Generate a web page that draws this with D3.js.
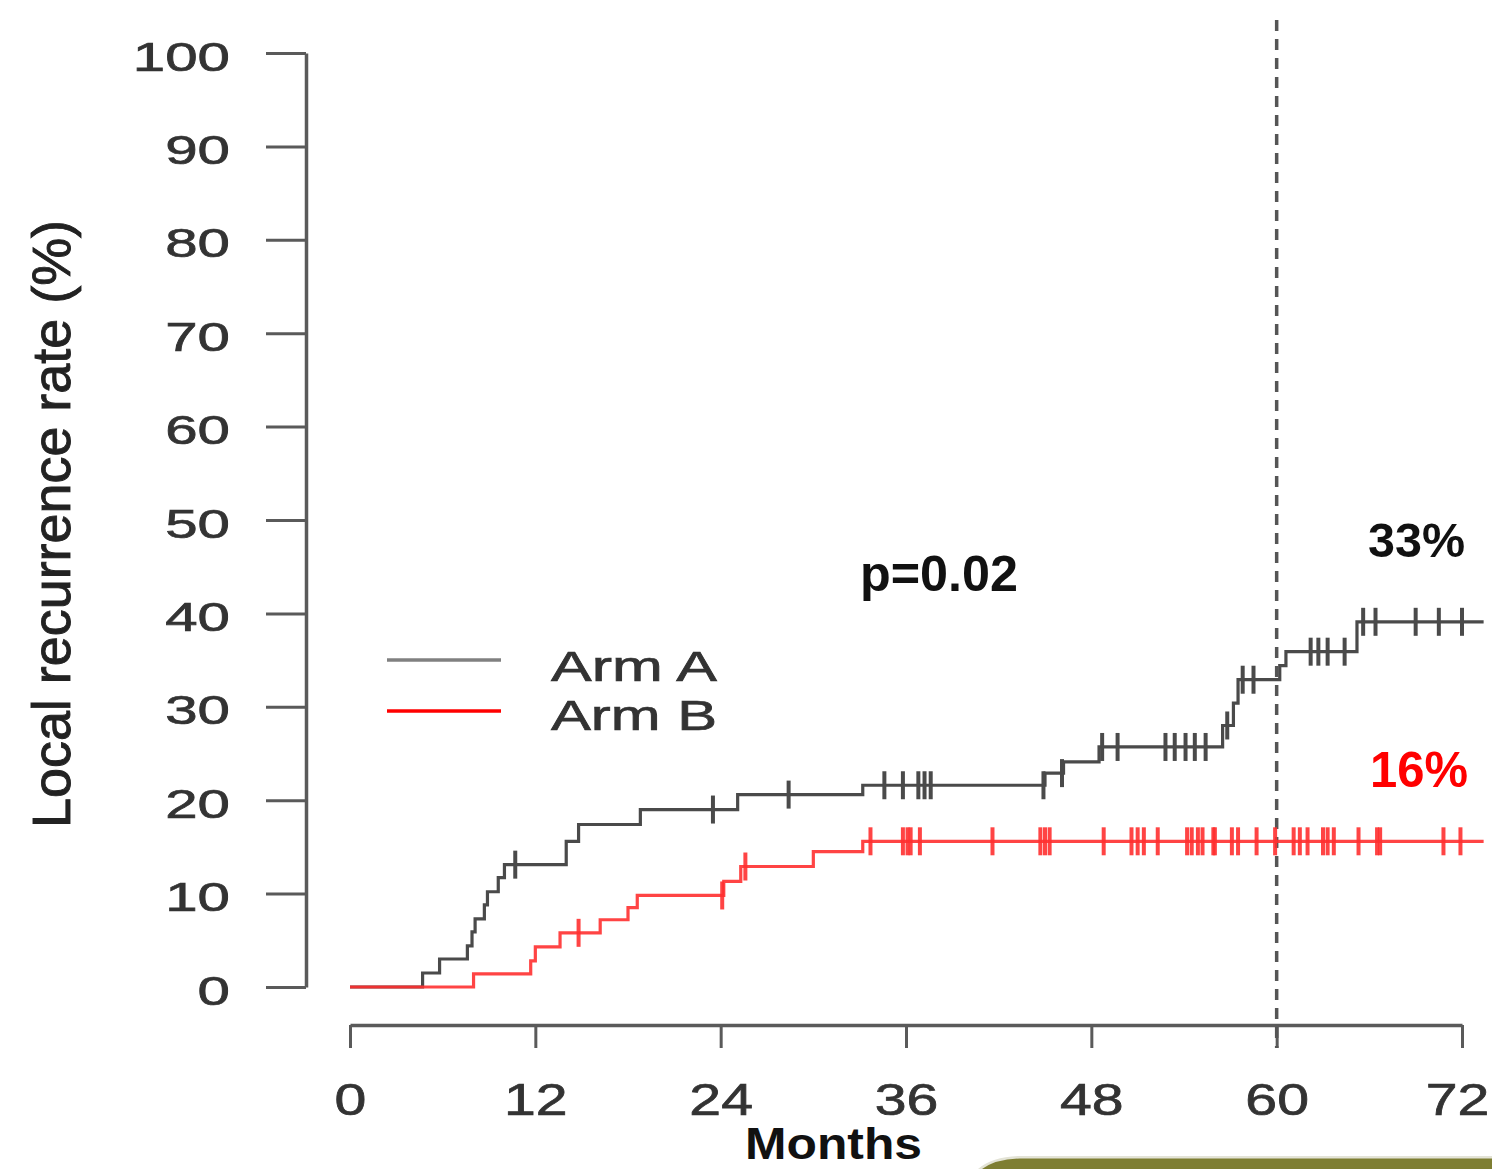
<!DOCTYPE html>
<html>
<head>
<meta charset="utf-8">
<script src="https://cdn.jsdelivr.net/npm/d3@7"></script>
<style>
  html, body { margin: 0; padding: 0; background: #fff; }
  svg { display: block; }
  text { font-family: "Liberation Sans", Arial, sans-serif; }
</style>
</head>
<body>
<svg id="chart" width="1492" height="1169"></svg>
<script>
// ---- data ----
const monthTicks = [0, 12, 24, 36, 48, 60, 72];
const rateTicks = [0, 10, 20, 30, 40, 50, 60, 70, 80, 90, 100];
const followUpEnd = 73.4;

// Arm A: event times (months) and cumulative local recurrence (%) after each event
const armATimes  = [4.7, 5.8, 7.6, 7.9, 8.1, 8.7, 8.9, 9.6, 10.0, 14.0, 14.8, 18.8, 25.1, 33.2, 45.0, 46.2, 48.5, 56.5, 57.2, 57.5, 60.2, 60.6, 65.2];
const armAValues = [1.5, 3.0, 4.4, 5.9, 7.3, 8.8, 10.2, 11.7, 13.1, 15.6, 17.4, 19.0, 20.6, 21.6, 22.9, 24.1, 25.7, 28.0, 30.4, 32.9, 34.4, 35.9, 39.1];
const armACensored = [10.7, 23.5, 28.4, 34.6, 35.8, 36.8, 37.2, 37.6, 44.9, 46.1, 48.7, 49.7, 52.8, 53.4, 54.1, 54.7, 55.4, 56.8, 57.8, 58.5, 62.2, 62.7, 63.3, 64.4, 65.6, 66.4, 69.0, 70.5, 72.0];

// Arm B
const armBTimes  = [8.0, 11.7, 12.0, 13.6, 16.2, 18.0, 18.6, 24.2, 25.3, 30.0, 33.2];
const armBValues = [1.4, 2.8, 4.3, 5.8, 7.2, 8.5, 9.8, 11.3, 12.9, 14.5, 15.6];
const armBCensored = [14.8, 24.1, 25.6, 33.7, 35.8, 36.1, 36.3, 36.9, 41.6, 44.7, 45.0, 45.3, 48.8, 50.6, 51.0, 51.4, 52.3, 54.2, 54.5, 54.9, 55.2, 55.9, 56.0, 57.1, 57.5, 58.7, 59.9, 61.1, 61.5, 62.0, 63.0, 63.3, 63.7, 65.3, 66.5, 66.7, 70.8, 71.9];

const armLabels = ["Arm A", "Arm B"];
const pValueLabel = "p=0.02";
const armAAt60 = "33%";
const armBAt60 = "16%";
const landmarkMonth = 60;
const xTitle = "Months";
const yTitle = "Local recurrence rate (%)";

// ---- drawing ----
const svg = d3.select("#chart");
svg.append("rect").attr("width", 1492).attr("height", 1169).attr("fill", "#fff");

const x = d3.scaleLinear().domain([0, 72]).range([350, 1462]);
const y = d3.scaleLinear().domain([0, 100]).range([987, 53]);

const axisColor = "#5a5a5a";
const textColor = "#333";

// Y axis
const yAxisG = svg.append("g").attr("transform", "translate(306,0)")
  .call(d3.axisLeft(y).tickValues(rateTicks).tickSize(40).tickSizeOuter(0).tickFormat(d3.format("d")));
yAxisG.select(".domain").attr("stroke", axisColor).attr("stroke-width", 3.5);
yAxisG.selectAll(".tick line").attr("stroke", axisColor).attr("stroke-width", 3);
yAxisG.selectAll(".tick text")
  .attr("x", 0).attr("dy", null)
  .attr("transform", "translate(-76,17) scale(1.42,1)")
  .attr("text-anchor", "end")
  .attr("font-size", 41)
  .attr("fill", textColor)
  .attr("stroke", textColor).attr("stroke-width", 0.7)
  .attr("font-family", "'Liberation Sans', Arial, sans-serif");

// X axis
const xAxisG = svg.append("g").attr("transform", "translate(0,1025)")
  .call(d3.axisBottom(x).tickValues(monthTicks).tickSize(23).tickSizeOuter(0).tickFormat(d3.format("d")));
xAxisG.select(".domain").attr("stroke", axisColor).attr("stroke-width", 3.5);
xAxisG.selectAll(".tick line").attr("stroke", axisColor).attr("stroke-width", 3);
xAxisG.selectAll(".tick text")
  .attr("y", 0).attr("dy", null)
  .attr("transform", d => `translate(${d === 72 ? -5 : 0},90) scale(1.3,1)`)
  .attr("text-anchor", "middle")
  .attr("font-size", 44)
  .attr("fill", textColor)
  .attr("stroke", textColor).attr("stroke-width", 0.7)
  .attr("font-family", "'Liberation Sans', Arial, sans-serif");

// axis titles
svg.append("text")
  .attr("transform", "translate(70,524) rotate(-90)")
  .attr("text-anchor", "middle")
  .attr("font-size", 54)
  .attr("textLength", 608).attr("lengthAdjust", "spacingAndGlyphs")
  .attr("fill", "#222")
  .attr("stroke", "#222").attr("stroke-width", 0.9)
  .text(yTitle);

svg.append("text")
  .attr("x", 745).attr("y", 1159)
  .attr("font-size", 44).attr("font-weight", "bold")
  .attr("textLength", 177).attr("lengthAdjust", "spacingAndGlyphs")
  .attr("fill", "#111")
  .text(xTitle);

// landmark dashed line at 60 months
svg.append("line")
  .attr("x1", x(landmarkMonth)).attr("x2", x(landmarkMonth))
  .attr("y1", 20).attr("y2", 1048)
  .attr("stroke", "#555").attr("stroke-width", 3.5)
  .attr("stroke-dasharray", "11,8");

function stepData(times, values) {
  const pts = [{ t: 0, v: 0 }];
  times.forEach((t, i) => pts.push({ t: t, v: values[i] }));
  pts.push({ t: followUpEnd, v: values[values.length - 1] });
  return pts;
}
function valueAt(times, values, t) {
  const i = d3.bisectRight(times, t);
  return i === 0 ? 0 : values[i - 1];
}
const line = d3.line().x(d => x(d.t)).y(d => y(d.v)).curve(d3.curveStepAfter);

const arms = [
  { times: armATimes, values: armAValues, cens: armACensored, color: "#4a4a4a", op: 1 },
  { times: armBTimes, values: armBValues, cens: armBCensored, color: "#ff3030", op: 0.9 }
];

arms.forEach(a => {
  const g = svg.append("g");
  g.append("path")
    .datum(stepData(a.times, a.values))
    .attr("d", line)
    .attr("fill", "none")
    .attr("stroke", a.color).attr("stroke-opacity", a.op)
    .attr("stroke-width", 3.2);
  g.selectAll("line.cens").data(a.cens).join("line")
    .attr("class", "cens")
    .attr("x1", d => x(d)).attr("x2", d => x(d))
    .attr("y1", d => y(valueAt(a.times, a.values, d)) - 14)
    .attr("y2", d => y(valueAt(a.times, a.values, d)) + 14)
    .attr("stroke", a.color).attr("stroke-opacity", a.op)
    .attr("stroke-width", 4);
});

// legend
const legendColors = ["#808080", "#ff0000"];
const legendY = [660, 711];
const legendTextY = [681, 730];
armLabels.forEach((lab, i) => {
  svg.append("line")
    .attr("x1", 387).attr("x2", 501)
    .attr("y1", legendY[i]).attr("y2", legendY[i])
    .attr("stroke", legendColors[i]).attr("stroke-width", 3.5);
  svg.append("text")
    .attr("x", 551).attr("y", legendTextY[i])
    .attr("font-size", 43)
    .attr("textLength", 166).attr("lengthAdjust", "spacingAndGlyphs")
    .attr("fill", textColor)
    .attr("stroke", textColor).attr("stroke-width", 0.7)
    .text(lab);
});

// annotations
svg.append("text")
  .attr("x", 860).attr("y", 591)
  .attr("font-size", 50).attr("font-weight", "bold")
  .attr("textLength", 158).attr("lengthAdjust", "spacingAndGlyphs")
  .attr("fill", "#111")
  .text(pValueLabel);

svg.append("text")
  .attr("x", 1368).attr("y", 557)
  .attr("font-size", 49).attr("font-weight", "bold")
  .attr("textLength", 97).attr("lengthAdjust", "spacingAndGlyphs")
  .attr("fill", "#111")
  .text(armAAt60);

svg.append("text")
  .attr("x", 1370).attr("y", 787)
  .attr("font-size", 50).attr("font-weight", "bold")
  .attr("textLength", 98).attr("lengthAdjust", "spacingAndGlyphs")
  .attr("fill", "#ff0000")
  .text(armBAt60);

// olive slide decoration at bottom right
svg.append("path")
  .attr("d", "M978,1169 Q992,1157 1018,1156 L1492,1156 L1492,1169 Z")
  .attr("fill", "#e3e3d6");
svg.append("path")
  .attr("d", "M982,1169 Q996,1159 1020,1158.5 L1492,1158.5 L1492,1169 Z")
  .attr("fill", "#7e7e32");
</script>
</body>
</html>
